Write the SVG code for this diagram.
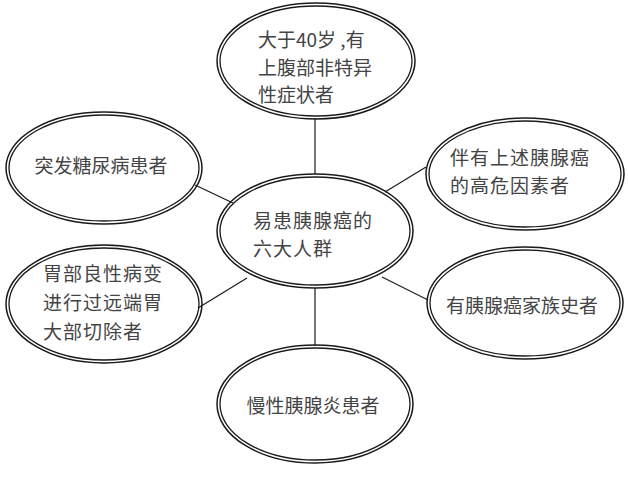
<svg xmlns="http://www.w3.org/2000/svg" width="628" height="479" viewBox="0 0 628 479">
<style>
.o{fill:none;stroke:#1a1a1a;stroke-width:1.5}
.i{fill:none;stroke:#1a1a1a;stroke-width:1.3}
.c{stroke:#1a1a1a;stroke-width:1.2;fill:none}
text{font-family:"Noto Sans CJK SC","Noto Sans",sans-serif;font-size:19px;fill:#444;font-weight:400}
.m{text-anchor:middle}
</style>
<rect width="628" height="479" fill="#fff"/>
<g id="connectors">
<line class="c" x1="315" y1="118" x2="315" y2="174"/>
<line class="c" x1="315" y1="288" x2="315" y2="346"/>
<line class="c" x1="195" y1="185" x2="233" y2="203"/>
<line class="c" x1="385" y1="192" x2="426" y2="167"/>
<line class="c" x1="198" y1="308" x2="247" y2="278"/>
<line class="c" x1="382" y1="277" x2="428" y2="300"/>
</g>
<g id="top">
<ellipse class="o" cx="316" cy="61" rx="99" ry="58"/>
<ellipse class="i" cx="316" cy="61" rx="96" ry="55"/>
<text x="258" y="47">大于40岁 ,有</text>
<text x="258" y="75">上腹部非特异</text>
<text x="258" y="102">性症状者</text>
</g>
<g id="left-top">
<ellipse class="o" cx="104" cy="168" rx="98" ry="56"/>
<ellipse class="i" cx="104" cy="168" rx="95" ry="53"/>
<text class="m" x="101" y="173">突发糖尿病患者</text>
</g>
<g id="right-top">
<ellipse class="o" cx="525" cy="174" rx="99" ry="56"/>
<ellipse class="i" cx="525" cy="174" rx="96" ry="53"/>
<text x="450" y="165" letter-spacing="1">伴有上述胰腺癌</text>
<text x="450" y="193" letter-spacing="1">的高危因素者</text>
</g>
<g id="center">
<ellipse class="o" cx="315" cy="231" rx="98" ry="57"/>
<ellipse class="i" cx="315" cy="231" rx="95" ry="54"/>
<text x="253" y="228" letter-spacing="1">易患胰腺癌的</text>
<text x="253" y="256" letter-spacing="1">六大人群</text>
</g>
<g id="left-bottom">
<ellipse class="o" cx="104" cy="304" rx="98" ry="59"/>
<ellipse class="i" cx="104" cy="304" rx="95" ry="56"/>
<text x="43" y="281" letter-spacing="1">胃部良性病变</text>
<text x="43" y="310" letter-spacing="1">进行过远端胃</text>
<text x="43" y="339" letter-spacing="1">大部切除者</text>
</g>
<g id="right-bottom">
<ellipse class="o" cx="525" cy="303" rx="98" ry="56"/>
<ellipse class="i" cx="525" cy="303" rx="95" ry="53"/>
<text class="m" x="522" y="313">有胰腺癌家族史者</text>
</g>
<g id="bottom">
<ellipse class="o" cx="315" cy="404" rx="98" ry="59"/>
<ellipse class="i" cx="315" cy="404" rx="95" ry="56"/>
<text class="m" x="313" y="413">慢性胰腺炎患者</text>
</g>
</svg>
